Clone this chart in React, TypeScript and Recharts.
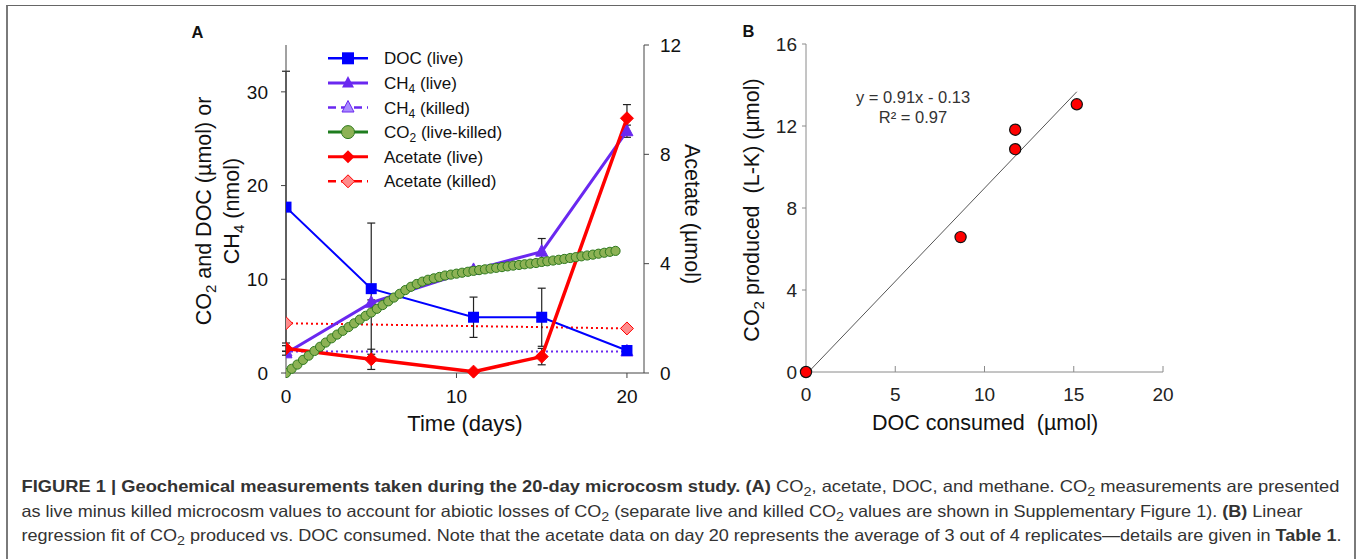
import React from 'react';
import {
  ComposedChart,
  ScatterChart,
  Line,
  Scatter,
  XAxis,
  YAxis,
  ErrorBar,
  Legend,
  ReferenceLine,
} from 'recharts';

const FONT = '"Liberation Sans", Arial, Helvetica, sans-serif';

// ---------- Panel A data ----------
const sampleDays = [0, 5, 11, 15, 20];
const docLive = [17.7, 9.0, 5.95, 5.95, 2.4];
const docErr = [14.5, 7.0, 2.15, 3.1, 0.3];
const ch4Live = [2.1, 7.5, 11.0, 12.95, 25.8];
const ch4Err = [0.2, 0.3, 0.3, 1.4, 0.65];
const acetateLive = [0.9, 0.5, 0.05, 0.6, 9.32];
const acetateErr = [0.1, 0.37, 0.05, 0.3, 0.5];
const killedDays = [0, 20];
const ch4Killed = [2.3, 2.3];
const acetateKilled = [1.82, 1.63];
const co2Days = [
  0, 0.33, 0.67, 1, 1.33, 1.67, 2, 2.33, 2.67, 3, 3.33, 3.67, 4, 4.33, 4.67, 5, 5.33, 5.67, 6, 6.33,
  6.67, 7, 7.33, 7.67, 8, 8.33, 8.67, 9, 9.33, 9.67, 10, 10.33, 10.67, 11, 11.33, 11.67, 12, 12.33,
  12.67, 13, 13.33, 13.67, 14, 14.33, 14.67, 15, 15.33, 15.67, 16, 16.33, 16.67, 17, 17.33, 17.67,
  18, 18.33, 18.67, 19, 19.33,
];
const co2LiveKilled = [
  0, 0.45, 0.9, 1.4, 1.85, 2.35, 2.8, 3.25, 3.7, 4.1, 4.5, 4.9, 5.3, 5.7, 6.1, 6.45, 6.85, 7.25,
  7.65, 8.05, 8.45, 8.85, 9.2, 9.5, 9.75, 9.95, 10.1, 10.25, 10.4, 10.5, 10.6, 10.7, 10.8, 10.9,
  10.98, 11.06, 11.14, 11.22, 11.3, 11.38, 11.46, 11.53, 11.6, 11.67, 11.74, 11.85, 11.92, 12.0,
  12.08, 12.17, 12.27, 12.36, 12.45, 12.54, 12.63, 12.73, 12.83, 12.93, 13.03,
];
const timeTicks = [0, 10, 20];
const leftTicks = [0, 10, 20, 30];
const rightTicks = [0, 4, 8, 12];

// ---------- Panel B data ----------
const docConsumed = [0, 8.66, 11.72, 11.72, 15.17];
const co2Produced = [0, 6.58, 11.82, 10.87, 13.06];
const fitX = [0.14, 15.17];
const fitY = [0, 13.67];
const docTicks = [0, 5, 10, 15, 20];
const co2Ticks = [0, 4, 8, 12, 16];

// ---------- colours ----------
const BLUE = '#0000FF';
const PURPLE = '#6A28F0';
const PURPLE_LIGHT = '#A98BFF';
const GREEN_LINE = '#1E7D1E';
const GREEN_FILL = '#8DB255';
const GREEN_STROKE = '#2F7A1F';
const RED = '#FF0000';
const RED_LIGHT = '#FF8C8C';

// ---------- built tables ----------
const docData = sampleDays.map((d, i) => ({ day: d, v: docLive[i], err: docErr[i] }));
const ch4Data = sampleDays.map((d, i) => ({ day: d, v: ch4Live[i], err: ch4Err[i] }));
const acData = sampleDays.map((d, i) => ({ day: d, v: acetateLive[i], err: acetateErr[i] }));
const ch4KData = killedDays.map((d, i) => ({ day: d, v: ch4Killed[i] }));
const acKData = killedDays.map((d, i) => ({ day: d, v: acetateKilled[i] }));
const co2Data = co2Days.map((d, i) => ({ day: d, v: co2LiveKilled[i] }));
const scatterData = docConsumed.map((x, i) => ({ x, y: co2Produced[i] }));

// ---------- marker shapes ----------
const squareDot = (fill: string) => (p: any) =>
  p.cx == null ? <g key={`s${p.index}`} /> : (
    <rect key={`s${p.index}`} x={p.cx - 5.5} y={p.cy - 5.5} width={11} height={11} fill={fill} />
  );
const triDot = (fill: string, stroke: string) => (p: any) =>
  p.cx == null ? <g key={`t${p.index}`} /> : (
    <polygon
      key={`t${p.index}`}
      points={`${p.cx},${p.cy - 7} ${p.cx - 6},${p.cy + 4.5} ${p.cx + 6},${p.cy + 4.5}`}
      fill={fill}
      stroke={stroke}
      strokeWidth={1}
    />
  );
const diaDot = (fill: string, stroke: string, r: number) => (p: any) =>
  p.cx == null ? <g key={`d${p.index}`} /> : (
    <polygon
      key={`d${p.index}`}
      points={`${p.cx},${p.cy - r} ${p.cx + r},${p.cy} ${p.cx},${p.cy + r} ${p.cx - r},${p.cy}`}
      fill={fill}
      stroke={stroke}
      strokeWidth={1}
    />
  );
const circDot = (p: any) =>
  p.cx == null ? <g key={`c${p.index}`} /> : (
    <circle key={`c${p.index}`} cx={p.cx} cy={p.cy} r={4.6} fill={GREEN_FILL} stroke={GREEN_STROKE} strokeWidth={1} />
  );

// ---------- legend ----------
const ROW0 = 12.3;
const ROWH = 24.6;
const LegendA = () => {
  const rows = [0, 1, 2, 3, 4, 5].map((i) => ROW0 + i * ROWH);
  const tx = 64;
  const fs = 17;
  const T = (props: any) => (
    <text x={tx} fontSize={fs} fontFamily={FONT} fill="#111" style={{ whiteSpace: 'pre' }} {...props} />
  );
  return (
    <svg width={210} height={150} style={{ display: 'block', overflow: 'visible' }}>
      <line x1={8} x2={48} y1={rows[0]} y2={rows[0]} stroke={BLUE} strokeWidth={2.5} />
      <rect x={22} y={rows[0] - 6} width={12} height={12} fill={BLUE} />
      <T y={rows[0] + 6}>DOC (live)</T>
      <line x1={8} x2={48} y1={rows[1]} y2={rows[1]} stroke={PURPLE} strokeWidth={3} />
      <polygon points={`28,${rows[1] - 7} 22,${rows[1] + 4.5} 34,${rows[1] + 4.5}`} fill={PURPLE} />
      <T y={rows[1] + 6}>
        CH<tspan fontSize={12} dy={4}>4</tspan>
        <tspan dy={-4}> (live)</tspan>
      </T>
      <line x1={8} x2={48} y1={rows[2]} y2={rows[2]} stroke={PURPLE} strokeWidth={2.5} strokeDasharray="8 5" />
      <polygon
        points={`28,${rows[2] - 7} 22,${rows[2] + 4.5} 34,${rows[2] + 4.5}`}
        fill={PURPLE_LIGHT}
        stroke={PURPLE}
        strokeWidth={1}
      />
      <T y={rows[2] + 6}>
        CH<tspan fontSize={12} dy={4}>4</tspan>
        <tspan dy={-4}> (killed)</tspan>
      </T>
      <line x1={8} x2={48} y1={rows[3]} y2={rows[3]} stroke={GREEN_LINE} strokeWidth={3} />
      <circle cx={28} cy={rows[3]} r={6.5} fill={GREEN_FILL} stroke={GREEN_STROKE} strokeWidth={1} />
      <T y={rows[3] + 6}>
        CO<tspan fontSize={12} dy={4}>2</tspan>
        <tspan dy={-4}> (live-killed)</tspan>
      </T>
      <line x1={8} x2={48} y1={rows[4]} y2={rows[4]} stroke={RED} strokeWidth={3} />
      <polygon points={`28,${rows[4] - 6.5} 34.5,${rows[4]} 28,${rows[4] + 6.5} 21.5,${rows[4]}`} fill={RED} />
      <T y={rows[4] + 6}>Acetate (live)</T>
      <line x1={8} x2={48} y1={rows[5]} y2={rows[5]} stroke={RED} strokeWidth={2.5} strokeDasharray="8 5" />
      <polygon
        points={`28,${rows[5] - 6.5} 34.5,${rows[5]} 28,${rows[5] + 6.5} 21.5,${rows[5]}`}
        fill={RED_LIGHT}
        stroke={RED}
        strokeWidth={1}
      />
      <T y={rows[5] + 6}>Acetate (killed)</T>
    </svg>
  );
};

// ---------- axis titles ----------
const LeftTitleA = () => (
  <g fontFamily={FONT} fontSize={21.5} fill="#111">
    <text x={211} y={211} textAnchor="middle" transform="rotate(-90 211 211)">
      CO<tspan fontSize={15} dy={5}>2</tspan>
      <tspan dy={-5}> and DOC (µmol) or</tspan>
    </text>
    <text x={239} y={211} textAnchor="middle" transform="rotate(-90 239 211)">
      CH<tspan fontSize={15} dy={5}>4</tspan>
      <tspan dy={-5}> (nmol)</tspan>
    </text>
  </g>
);
const RightTitleA = () => (
  <text
    x={685}
    y={214}
    textAnchor="middle"
    transform="rotate(90 685 214)"
    fontFamily={FONT}
    fontSize={21.5}
    fill="#111"
  >
    Acetate (µmol)
  </text>
);
const BottomTitleA = () => (
  <text x={465} y={431} textAnchor="middle" fontFamily={FONT} fontSize={22} fill="#111">
    Time (days)
  </text>
);
// panel B chart is offset by 720px, coordinates are chart-local
const LeftTitleB = () => (
  <text
    x={39}
    y={210}
    textAnchor="middle"
    transform="rotate(-90 39 210)"
    fontFamily={FONT}
    fontSize={21.5}
    fill="#111"
    style={{ whiteSpace: 'pre' }}
  >
    CO<tspan fontSize={15} dy={5}>2</tspan>
    <tspan dy={-5}>{' produced  (L-K) (µmol)'}</tspan>
  </text>
);
const BottomTitleB = () => (
  <text
    x={265}
    y={430}
    textAnchor="middle"
    fontFamily={FONT}
    fontSize={21.5}
    fill="#111"
    style={{ whiteSpace: 'pre' }}
  >
    {'DOC consumed  (µmol)'}
  </text>
);

const Caption = () => {
  const common = {
    fontFamily: FONT,
    fontSize: 16.5,
    fill: '#333',
    lengthAdjust: 'spacingAndGlyphs' as const,
    style: { whiteSpace: 'pre' as const },
  };
  return (
    <g>
      <text x={21.5} y={492} textLength={1318} {...common}>
        <tspan fontWeight="bold">FIGURE 1 | Geochemical measurements taken during the 20-day microcosm study. (A)</tspan>
        <tspan> CO</tspan>
        <tspan fontSize={13} dy={4}>2</tspan>
        <tspan dy={-4}>, acetate, DOC, and methane. CO</tspan>
        <tspan fontSize={13} dy={4}>2</tspan>
        <tspan dy={-4}> measurements are presented</tspan>
      </text>
      <text x={21.5} y={516.5} textLength={1281} {...common}>
        <tspan>as live minus killed microcosm values to account for abiotic losses of CO</tspan>
        <tspan fontSize={13} dy={4}>2</tspan>
        <tspan dy={-4}> (separate live and killed CO</tspan>
        <tspan fontSize={13} dy={4}>2</tspan>
        <tspan dy={-4}> values are shown in Supplementary Figure 1). </tspan>
        <tspan fontWeight="bold">(B)</tspan>
        <tspan> Linear</tspan>
      </text>
      <text x={21.5} y={541} textLength={1320} {...common}>
        <tspan>regression fit of CO</tspan>
        <tspan fontSize={13} dy={4}>2</tspan>
        <tspan dy={-4}> produced vs. DOC consumed. Note that the acetate data on day 20 represents the average of 3 out of 4 replicates—details are given in </tspan>
        <tspan fontWeight="bold">Table 1</tspan>
        <tspan>.</tspan>
      </text>
    </g>
  );
};

const axisA = '#444';
const tickA = { fill: '#111', fontSize: 19, fontFamily: FONT };
const axisB = '#8a8a8a';
const tickB = { fill: '#222', fontSize: 19, fontFamily: FONT };

export default function App() {
  return (
    <div
      style={{
        position: 'absolute',
        left: 0,
        top: 0,
        width: 1360,
        height: 559,
        overflow: 'hidden',
        background: '#fff',
      }}
    >
      <div
        style={{
          position: 'absolute',
          left: 6,
          top: 5,
          width: 1346,
          height: 600,
          borderTop: '1.5px solid #666',
          borderLeft: '2px solid #7a7a7a',
          borderRight: '2px solid #7a7a7a',
        }}
      />

      {/* Panel A */}
      <div style={{ position: 'absolute', left: 0, top: 0 }}>
        <ComposedChart width={720} height={450} margin={{ top: 45, right: 16, bottom: 37, left: 226 }}>
          <XAxis
            type="number"
            dataKey="day"
            domain={[0, 21]}
            ticks={timeTicks}
            allowDataOverflow
            height={40}
            stroke={axisA}
            tickSize={5}
            tickMargin={12}
            tick={tickA}
            tickLine={{ stroke: axisA }}
            label={{ content: () => <BottomTitleA /> }}
          />
          <YAxis
            yAxisId="left"
            type="number"
            domain={[0, 35]}
            ticks={leftTicks}
            width={60}
            stroke={axisA}
            tickSize={5}
            tickMargin={13}
            tick={tickA}
            label={{ content: () => <LeftTitleA /> }}
          />
          <YAxis
            yAxisId="right"
            orientation="right"
            type="number"
            domain={[0, 12]}
            ticks={rightTicks}
            width={60}
            stroke={axisA}
            tickSize={5}
            tickMargin={11}
            tick={tickA}
            label={{ content: () => <RightTitleA /> }}
          />
          <Legend
            layout="vertical"
            align="center"
            verticalAlign="middle"
            wrapperStyle={{ left: 320, top: 46, width: 210, height: 150 }}
            content={() => <LegendA />}
          />
          <Line
            yAxisId="left"
            data={ch4KData}
            dataKey="v"
            stroke={PURPLE}
            strokeWidth={2}
            strokeDasharray="2 3"
            dot={triDot(PURPLE_LIGHT, PURPLE)}
            activeDot={false}
            isAnimationActive={false}
          />
          <Line
            yAxisId="right"
            data={acKData}
            dataKey="v"
            stroke={RED}
            strokeWidth={2}
            strokeDasharray="2 3"
            dot={diaDot(RED_LIGHT, RED, 6.5)}
            activeDot={false}
            isAnimationActive={false}
          />
          <Line
            yAxisId="left"
            data={ch4Data}
            dataKey="v"
            stroke={PURPLE}
            strokeWidth={3}
            dot={triDot(PURPLE, PURPLE)}
            activeDot={false}
            isAnimationActive={false}
          >
            <ErrorBar dataKey="err" direction="y" width={4} stroke="#222" strokeWidth={1.2} />
          </Line>
          <Line
            yAxisId="left"
            data={co2Data}
            dataKey="v"
            stroke={GREEN_LINE}
            strokeWidth={2}
            dot={circDot}
            activeDot={false}
            isAnimationActive={false}
          />
          <Line
            yAxisId="left"
            data={docData}
            dataKey="v"
            stroke={BLUE}
            strokeWidth={2}
            dot={squareDot(BLUE)}
            activeDot={false}
            isAnimationActive={false}
          >
            <ErrorBar dataKey="err" direction="y" width={4} stroke="#222" strokeWidth={1.2} />
          </Line>
          <Line
            yAxisId="right"
            data={acData}
            dataKey="v"
            stroke={RED}
            strokeWidth={3.5}
            dot={diaDot(RED, RED, 6.5)}
            activeDot={false}
            isAnimationActive={false}
          >
            <ErrorBar dataKey="err" direction="y" width={4} stroke="#222" strokeWidth={1.2} />
          </Line>
        </ComposedChart>
      </div>

      {/* Panel B */}
      <div style={{ position: 'absolute', left: 720, top: 0 }}>
        <ScatterChart width={460} height={450} margin={{ top: 44, right: 17, bottom: 38, left: 36 }}>
          <XAxis
            type="number"
            dataKey="x"
            domain={[0, 20]}
            ticks={docTicks}
            height={40}
            stroke={axisB}
            tickSize={-6}
            tickMargin={22}
            tick={tickB}
            label={{ content: () => <BottomTitleB /> }}
          />
          <YAxis
            type="number"
            dataKey="y"
            domain={[0, 16]}
            ticks={co2Ticks}
            width={50}
            stroke={axisB}
            tickSize={4}
            tickMargin={5}
            tick={tickB}
            label={{ content: () => <LeftTitleB /> }}
          />
          <ReferenceLine
            segment={[
              { x: fitX[0], y: fitY[0] },
              { x: fitX[1], y: fitY[1] },
            ]}
            stroke="#555"
            strokeWidth={1}
            ifOverflow="visible"
          />
          <Scatter
            data={scatterData}
            isAnimationActive={false}
            shape={(p: any) => (
              <circle cx={p.cx} cy={p.cy} r={5.6} fill={RED} stroke="#111" strokeWidth={1.2} />
            )}
          />
        </ScatterChart>
      </div>

      <svg
        width={1360}
        height={559}
        style={{ position: 'absolute', left: 0, top: 0, pointerEvents: 'none' }}
      >
        <text x={191.5} y={38} fontFamily={FONT} fontWeight="bold" fontSize={16.5} fill="#111">
          A
        </text>
        <text x={742.5} y={37} fontFamily={FONT} fontWeight="bold" fontSize={16.5} fill="#111">
          B
        </text>
        <text x={913} y={103} textAnchor="middle" fontFamily={FONT} fontSize={16.5} fill="#333">
          y = 0.91x - 0.13
        </text>
        <text x={913} y={123} textAnchor="middle" fontFamily={FONT} fontSize={16.5} fill="#333">
          R² = 0.97
        </text>
        <Caption />
      </svg>
    </div>
  );
}
